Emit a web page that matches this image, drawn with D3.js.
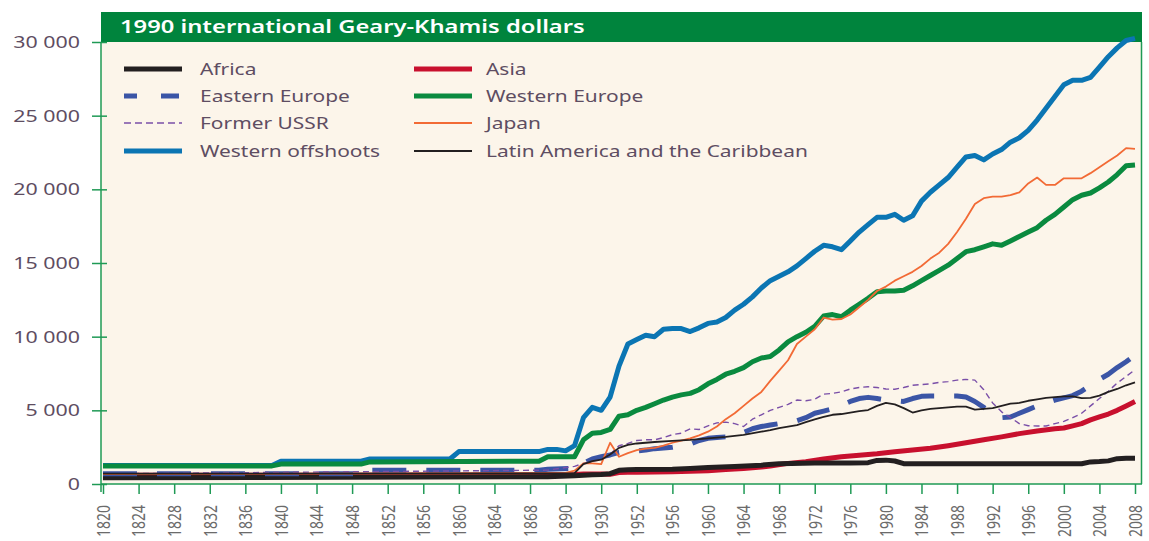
<!DOCTYPE html>
<html><head><meta charset="utf-8">
<script src="https://cdn.jsdelivr.net/npm/d3@7"></script>
<style>body{margin:0;background:#fff;} svg{display:block;}</style>
</head><body>
<svg id="chart" width="1149" height="541"></svg>
<script>
// ---- categories (one slot per category on the x axis) ----
const categories = [
  ...d3.range(1820, 1871),
  1880, 1890, 1900, 1910, 1920, 1930, 1940, 1950, 1951,
  ...d3.range(1952, 2009)
].map(String);

const tickLabels = ["1820","1824","1828","1832","1836","1840","1844","1848","1852","1856","1860","1864","1868",
  "1890","1930","1952","1956","1960","1964","1968","1972","1976","1980","1984","1988","1992","1996","2000","2004","2008"];

const yTicks = [0, 5000, 10000, 15000, 20000, 25000, 30000];

// ---- series values: [year, GDP per capita] ----
const africa = [[1820,420],[1870,500],[1900,560],[1910,600],[1920,620],[1930,650],[1940,700],[1950,930],[1951,960],
  [1952,980],[1956,1000],[1958,1060],[1960,1120],[1963,1180],[1966,1280],[1968,1380],[1972,1420],[1976,1430],[1978,1450],
  [1979,1600],[1980,1620],[1981,1560],[1982,1380],[1990,1370],[2000,1370],[2002,1370],[2003,1500],[2004,1520],[2005,1570],
  [2006,1720],[2007,1740],[2008,1740]];

const asia = [[1820,600],[1850,600],[1870,620],[1900,650],[1910,680],[1920,680],[1930,680],[1940,660],[1950,780],[1951,790],
  [1952,800],[1956,830],[1958,860],[1960,900],[1962,980],[1964,1050],[1966,1150],[1967,1220],[1969,1400],[1971,1510],
  [1973,1700],[1975,1850],[1977,1950],[1979,2050],[1981,2190],[1983,2300],[1985,2420],[1987,2600],[1989,2800],[1991,3000],
  [1993,3200],[1995,3420],[1997,3600],[1999,3750],[2000,3800],[2001,3950],[2002,4100],[2003,4350],[2004,4550],[2005,4750],
  [2006,5000],[2007,5300],[2008,5600]];

const easternEurope = [[1820,690],[1849,690],[1850,930],[1869,930],[1870,1000],[1900,1060],[1910,1400],[1920,1700],[1930,1850],
  [1940,1970],[1950,2150],[1951,2200],[1952,2250],[1953,2300],[1954,2400],[1955,2450],[1956,2500],[1957,2600],[1958,2700],
  [1959,2950],[1960,3100],[1961,3150],[1962,3200],[1963,3250],[1964,3500],[1965,3750],[1966,3900],[1967,4000],[1968,4100],
  [1969,4200],[1970,4300],[1971,4500],[1972,4800],[1973,4950],[1974,5100],[1975,5350],[1976,5600],[1977,5800],[1978,5880],
  [1979,5800],[1980,5700],[1981,5650],[1982,5600],[1983,5800],[1984,5950],[1985,5970],[1986,5970],[1987,5970],[1988,5970],
  [1989,5900],[1990,5600],[1991,5200],[1992,4800],[1993,4500],[1994,4550],[1995,4800],[1996,5050],[1997,5300],[1998,5500],
  [1999,5700],[2000,5850],[2001,6000],[2002,6300],[2003,6700],[2004,7100],[2005,7450],[2006,7900],[2007,8300],[2008,8750]];

const westernEurope = [[1820,1230],[1839,1230],[1840,1350],[1849,1350],[1850,1500],[1869,1550],[1870,1850],[1890,1850],
  [1900,1850],[1910,3000],[1920,3450],[1930,3500],[1940,3700],[1950,4600],[1951,4700],[1952,5000],[1953,5200],[1954,5450],
  [1955,5700],[1956,5900],[1957,6050],[1958,6150],[1959,6400],[1960,6800],[1961,7100],[1962,7450],[1963,7650],[1964,7900],
  [1965,8300],[1966,8550],[1967,8650],[1968,9100],[1969,9650],[1970,10000],[1971,10300],[1972,10700],[1973,11400],
  [1974,11500],[1975,11350],[1976,11800],[1977,12200],[1978,12600],[1979,13050],[1980,13100],[1981,13100],[1982,13150],
  [1983,13450],[1984,13800],[1985,14150],[1986,14500],[1987,14850],[1988,15300],[1989,15770],[1990,15900],[1991,16100],
  [1992,16300],[1993,16200],[1994,16500],[1995,16800],[1996,17100],[1997,17400],[1998,17900],[1999,18300],[2000,18800],
  [2001,19300],[2002,19600],[2003,19750],[2004,20100],[2005,20500],[2006,21000],[2007,21600],[2008,21650]];

const formerUSSR = [[1820,690],[1870,940],[1900,1200],[1910,1400],[1920,1550],[1930,1650],[1940,2000],[1950,2600],[1951,2760],
  [1952,2950],[1953,3000],[1954,3000],[1955,3150],[1956,3350],[1957,3450],[1958,3750],[1959,3700],[1960,3950],[1961,4150],
  [1962,4200],[1963,4100],[1964,3900],[1965,4400],[1966,4700],[1967,5000],[1968,5200],[1969,5400],[1970,5700],[1971,5650],
  [1972,5750],[1973,6100],[1974,6150],[1975,6250],[1976,6450],[1977,6550],[1978,6600],[1979,6550],[1980,6450],[1981,6430],
  [1982,6550],[1983,6700],[1984,6750],[1985,6800],[1986,6900],[1987,6950],[1988,7050],[1989,7100],[1990,7050],[1991,6400],
  [1992,5500],[1993,4900],[1994,4500],[1995,4100],[1996,3950],[1997,3940],[1998,3940],[1999,4100],[2000,4250],[2001,4500],
  [2002,4800],[2003,5300],[2004,5800],[2005,6300],[2006,6850],[2007,7300],[2008,7750]];

const japan = [[1820,670],[1870,737],[1890,750],[1900,900],[1910,1400],[1920,1400],[1930,1350],[1940,2800],[1950,1850],
  [1951,2100],[1952,2300],[1953,2400],[1954,2450],[1955,2600],[1956,2800],[1957,2950],[1958,3100],[1959,3300],[1960,3550],
  [1961,3900],[1962,4400],[1963,4800],[1964,5300],[1965,5800],[1966,6250],[1967,7000],[1968,7700],[1969,8400],[1970,9500],
  [1971,10000],[1972,10500],[1973,11300],[1974,11150],[1975,11200],[1976,11500],[1977,12000],[1978,12500],[1979,13100],
  [1980,13400],[1981,13800],[1982,14100],[1983,14400],[1984,14800],[1985,15300],[1986,15700],[1987,16300],[1988,17100],
  [1989,18000],[1990,19000],[1991,19400],[1992,19500],[1993,19500],[1994,19600],[1995,19800],[1996,20400],[1997,20800],
  [1998,20300],[1999,20300],[2000,20750],[2001,20750],[2002,20750],[2003,21100],[2004,21500],[2005,21900],[2006,22300],
  [2007,22800],[2008,22750]];

const westernOffshoots = [[1820,1250],[1839,1250],[1840,1550],[1849,1550],[1850,1700],[1859,1700],[1860,2200],[1869,2200],
  [1870,2350],[1880,2350],[1890,2250],[1900,2600],[1910,4500],[1920,5200],[1930,5000],[1940,5900],[1950,8000],[1951,9500],
  [1952,9800],[1953,10100],[1954,10000],[1955,10500],[1956,10550],[1957,10550],[1958,10350],[1959,10600],[1960,10900],
  [1961,11000],[1962,11300],[1963,11800],[1964,12200],[1965,12700],[1966,13300],[1967,13800],[1968,14100],[1969,14400],
  [1970,14800],[1971,15300],[1972,15800],[1973,16200],[1974,16100],[1975,15900],[1976,16500],[1977,17100],[1978,17600],
  [1979,18100],[1980,18100],[1981,18300],[1982,17900],[1983,18200],[1984,19200],[1985,19800],[1986,20300],[1987,20800],
  [1988,21500],[1989,22200],[1990,22300],[1991,22000],[1992,22400],[1993,22700],[1994,23200],[1995,23500],[1996,24000],
  [1997,24700],[1998,25500],[1999,26300],[2000,27100],[2001,27400],[2002,27400],[2003,27600],[2004,28300],[2005,29000],
  [2006,29600],[2007,30100],[2008,30250]];

const latinAmerica = [[1820,700],[1870,720],[1900,740],[1910,1350],[1920,1550],[1930,1650],[1940,2000],[1950,2450],[1951,2650],
  [1952,2750],[1954,2850],[1956,2930],[1958,3000],[1960,3100],[1962,3200],[1964,3330],[1966,3550],[1967,3660],[1968,3800],
  [1969,3900],[1970,4000],[1971,4200],[1972,4390],[1973,4550],[1974,4700],[1975,4750],[1976,4850],[1977,4950],[1978,5020],
  [1979,5300],[1980,5500],[1981,5400],[1982,5150],[1983,4850],[1984,5000],[1985,5100],[1986,5150],[1987,5200],[1988,5250],
  [1989,5250],[1990,5050],[1991,5100],[1992,5150],[1993,5300],[1994,5450],[1995,5500],[1996,5650],[1997,5750],[1998,5850],
  [1999,5900],[2000,5950],[2001,5950],[2002,5830],[2003,5850],[2004,6000],[2005,6250],[2006,6450],[2007,6700],[2008,6900]];

const titleText = "1990 international Geary-Khamis dollars";

// ---- series styling (drawing order) ----
const series = [
  {name:"Western offshoots", data:westernOffshoots, color:"#0b75b3", width:5, dash:null, col:0, row:3},
  {name:"Western Europe", data:westernEurope, color:"#0a8a3f", width:5, dash:null, col:1, row:1},
  {name:"Asia", data:asia, color:"#c8102e", width:5, dash:null, col:1, row:0},
  {name:"Africa", data:africa, color:"#231f20", width:5, dash:null, col:0, row:0},
  {name:"Eastern Europe", data:easternEurope, color:"#3b55a6", width:5, dash:"34,20", legendDash:"13,24,18", col:0, row:1},
  {name:"Former USSR", data:formerUSSR, color:"#7a4fa8", width:1.4, dash:"6,4", legendDash:"7,4", col:0, row:2},
  {name:"Japan", data:japan, color:"#f26a35", width:1.8, dash:null, col:1, row:2},
  {name:"Latin America and the Caribbean", data:latinAmerica, color:"#231f20", width:1.8, dash:null, col:1, row:3}
];

// ---- layout ----
const X0 = 101, X1 = 1142, Y0 = 42, Y1 = 484;
const green = "#00843d", axisGreen = "#1f9a55";
const font = "'Noto Sans', sans-serif";
const textColor = "#5e4d62";

const svg = d3.select("#chart");
const x = d3.scalePoint().domain(categories).range([103, 1135]).padding(0);
const y = d3.scaleLinear().domain([0, 30000]).range([Y1, Y0]);

svg.append("rect").attr("x", X0).attr("y", 12).attr("width", X1 - X0).attr("height", Y0 - 12).attr("fill", green);
svg.append("rect").attr("x", X0).attr("y", Y0).attr("width", X1 - X0).attr("height", Y1 - Y0).attr("fill", "#fcf5ea");
svg.append("text").attr("transform", `translate(120,33) scale(1.32,1)`)
  .attr("fill", "#fff").attr("font-family", font).attr("font-weight", 600).attr("font-size", 18).text(titleText);

// right border
svg.append("line").attr("x1", X1 - 0.5).attr("x2", X1 - 0.5).attr("y1", Y0).attr("y2", Y1)
  .attr("stroke", axisGreen).attr("stroke-width", 1.5);

// lines
const line = d3.line().x(d => x(String(d[0]))).y(d => y(d[1])).curve(d3.curveLinear);
const gl = svg.append("g");
series.forEach(s => {
  gl.append("path").datum(s.data).attr("d", line).attr("fill", "none")
    .attr("stroke", s.color).attr("stroke-width", s.width)
    .attr("stroke-linejoin", "round").attr("stroke-linecap", "butt")
    .attr("stroke-dasharray", s.dash);
});

// y axis
const fmt = v => d3.format(",")(v).replace(/,/g, " ");
const ya = svg.append("g").attr("transform", `translate(${X0},0)`)
  .call(d3.axisLeft(y).tickValues(yTicks).tickSize(9).tickSizeOuter(0).tickFormat(fmt));
ya.select(".domain").remove();
ya.selectAll(".tick line").attr("x1", 6).attr("stroke", axisGreen).attr("stroke-width", 1.5);
ya.selectAll(".tick text").attr("x", null).attr("dy", null)
  .attr("transform", `translate(-21,5.5) scale(1.38,1)`)
  .attr("font-family", font).attr("font-size", 15.5).attr("fill", textColor);
svg.append("line").attr("x1", X0).attr("x2", X0).attr("y1", Y0).attr("y2", Y1 + 8)
  .attr("stroke", axisGreen).attr("stroke-width", 1.5);

// x axis
const xa = svg.append("g").attr("transform", `translate(0,${Y1})`)
  .call(d3.axisBottom(x).tickValues(tickLabels).tickSize(10).tickSizeOuter(0));
xa.select(".domain").remove();
xa.selectAll(".tick line").attr("stroke", axisGreen).attr("stroke-width", 1.5);
xa.selectAll(".tick text").attr("y", null).attr("dy", "0.35em")
  .attr("transform", `translate(0,21) scale(1.3,1) rotate(-90)`)
  .attr("text-anchor", "end")
  .attr("font-family", font).attr("font-size", 14).attr("fill", "#6b6b6b");
svg.append("line").attr("x1", X0).attr("x2", X1).attr("y1", Y1).attr("y2", Y1)
  .attr("stroke", axisGreen).attr("stroke-width", 1.5);

// legend
const legX = [[124, 182, 200], [414, 472, 486]];
const legY = [69, 96, 123, 151];
const lg = svg.append("g");
series.forEach(s => {
  const [a, b, t] = legX[s.col];
  const yy = legY[s.row];
  lg.append("line").attr("x1", a).attr("x2", b).attr("y1", yy).attr("y2", yy)
    .attr("stroke", s.color).attr("stroke-width", s.width)
    .attr("stroke-dasharray", s.legendDash || null);
  lg.append("text").attr("transform", `translate(${t},${yy + 5.5}) scale(1.35,1)`)
    .attr("font-family", font).attr("font-size", 15.5).attr("fill", textColor).text(s.name);
});
</script>
</body></html>
